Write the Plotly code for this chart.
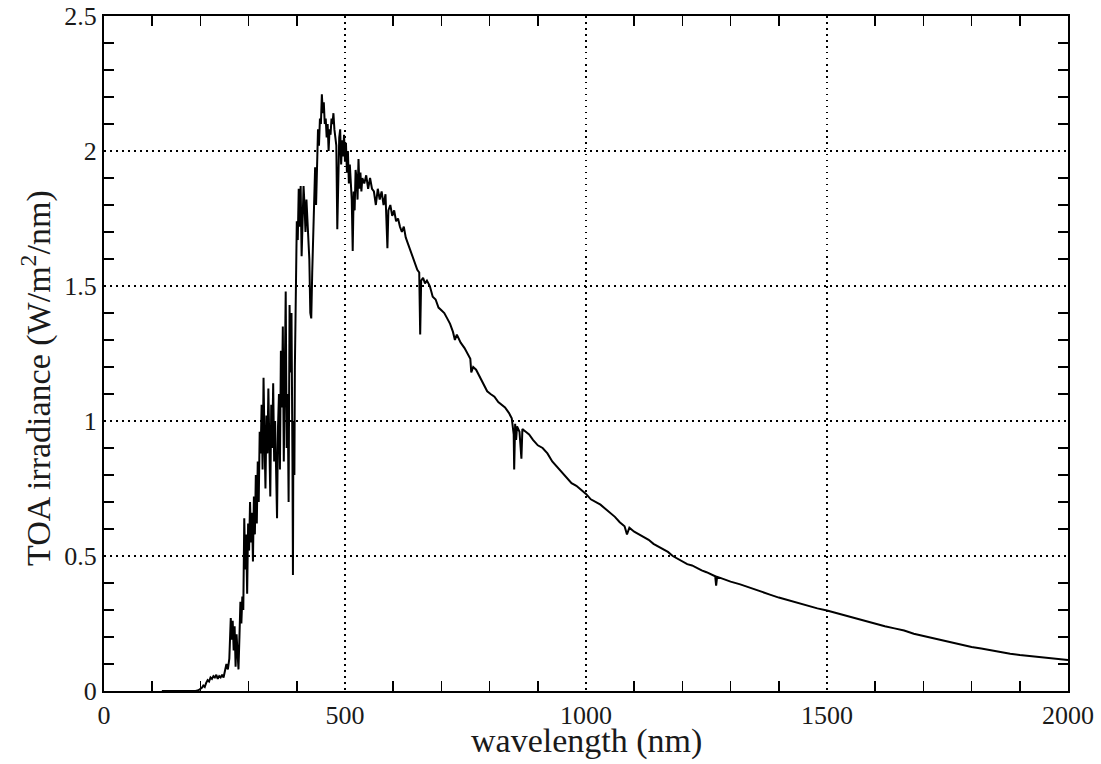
import plotly.graph_objects as go

# wavelength (nm) and TOA irradiance (W/m^2/nm)
wavelength = [
    120, 190, 196, 200, 203, 206, 209, 212, 215, 218, 221, 224, 227, 230, 233, 236, 239, 242, 245, 248,
    251, 254, 257, 260, 263, 265, 267, 269, 271, 273, 275, 277, 279, 281, 283, 285, 287, 289, 291, 293,
    295, 297, 299, 301, 303, 305, 307, 309, 311, 313, 315, 317, 319, 321, 323, 325, 327, 329, 331, 333,
    335, 337, 339, 341, 343, 345, 347, 349, 351, 353, 355, 357, 359, 361, 363, 365, 367, 369, 371, 373,
    375, 377, 379, 381, 383, 385, 387, 389, 391, 392, 393, 395, 396, 398, 400, 402, 404, 406, 408, 410,
    412, 414, 416, 418, 420, 422, 424, 426, 428, 430, 432, 434, 436, 438, 440, 442, 444, 446, 448, 450,
    452, 454, 456, 458, 460, 462, 464, 466, 468, 470, 472, 474, 476, 478, 480, 482, 484, 486, 488, 490,
    492, 494, 496, 498, 500, 502, 504, 506, 508, 510, 512, 514, 516, 518, 520, 522, 524, 526, 528, 530,
    532, 534, 536, 540, 544, 548, 552, 556, 560, 564, 568, 572, 576, 580, 584, 588, 590, 594, 598, 602,
    606, 610, 614, 618, 622, 626, 630, 634, 638, 642, 646, 650, 654, 656, 658, 662, 666, 670, 676, 682,
    688, 694, 700, 706, 712, 718, 724, 728, 732, 740, 748, 756, 760, 762, 766, 772, 780, 788, 795, 802,
    810, 818, 825, 832, 840, 846, 850, 851, 853, 855, 857, 862, 866, 868, 875, 882, 890, 900, 910, 920,
    930, 940, 950, 960, 970, 980, 990, 1000, 1010, 1020, 1030, 1040, 1050, 1060, 1070, 1080, 1085, 1090, 1100, 1110,
    1120, 1130, 1140, 1150, 1160, 1170, 1180, 1190, 1200, 1210, 1220, 1230, 1240, 1250, 1260, 1268, 1270, 1272, 1280, 1290,
    1300, 1320, 1340, 1360, 1380, 1400, 1420, 1440, 1460, 1480, 1500, 1520, 1540, 1560, 1580, 1600, 1620, 1640, 1660, 1680,
    1700, 1720, 1740, 1760, 1780, 1800, 1820, 1840, 1860, 1880, 1900, 1920, 1940, 1960, 1980, 2000,
]
irradiance = [
    0.0, 0.0, 0.003, 0.008, 0.012, 0.02, 0.015, 0.03, 0.04, 0.035, 0.05, 0.045, 0.055, 0.05, 0.06, 0.045, 0.055, 0.05, 0.06, 0.05,
    0.07, 0.10, 0.08, 0.12, 0.27, 0.19, 0.26, 0.15, 0.24, 0.09, 0.21, 0.13, 0.08, 0.20, 0.33, 0.25, 0.35, 0.30, 0.64, 0.45,
    0.58, 0.36, 0.62, 0.52, 0.70, 0.55, 0.66, 0.48, 0.72, 0.58, 0.80, 0.62, 0.85, 0.70, 0.96, 0.88, 1.06, 0.82, 1.16, 0.93,
    0.75, 1.02, 0.88, 1.12, 0.92, 0.72, 1.06, 0.90, 1.14, 0.85, 1.00, 0.72, 0.64, 0.98, 1.10, 0.82, 1.26, 1.05, 1.35, 0.85,
    1.15, 1.48, 0.90, 1.10, 0.70, 1.43, 1.18, 1.40, 0.85, 0.43, 1.00, 0.80, 1.20, 1.60, 1.74, 1.67, 1.86, 1.72, 1.87, 1.61,
    1.78, 1.87, 1.80, 1.70, 1.82, 1.75, 1.65, 1.60, 1.40, 1.38, 1.55, 1.72, 1.85, 1.94, 1.80, 2.00, 2.08, 2.02, 2.12, 2.10,
    2.21, 2.14, 2.18, 2.10, 2.12, 2.05, 2.10, 2.00, 2.08, 2.06, 2.12, 2.10, 2.14, 2.08, 2.05, 2.02, 1.71, 1.95, 2.05, 2.08,
    1.95, 2.04, 1.98, 2.06, 1.96, 2.03, 1.92, 2.00, 1.88, 1.95, 1.90, 1.82, 1.63, 1.85, 1.78, 1.93, 1.90, 1.82, 1.97, 1.86,
    1.92, 1.85, 1.90, 1.88, 1.91, 1.86, 1.90, 1.86, 1.85, 1.80, 1.86, 1.82, 1.85, 1.80, 1.84, 1.64, 1.78, 1.80, 1.76, 1.78,
    1.74, 1.75, 1.72, 1.70, 1.72, 1.68, 1.66, 1.64, 1.62, 1.60, 1.58, 1.56, 1.55, 1.32, 1.52, 1.53, 1.51, 1.52, 1.50, 1.46,
    1.45, 1.42, 1.41, 1.40, 1.38, 1.36, 1.33, 1.30, 1.32, 1.29, 1.27, 1.24, 1.23, 1.18, 1.20, 1.19, 1.16, 1.13, 1.11, 1.10,
    1.09, 1.07, 1.06, 1.05, 1.03, 1.01, 0.95, 0.82, 0.99, 0.93, 0.98, 0.96, 0.86, 0.97, 0.96, 0.95, 0.93, 0.91, 0.90, 0.88,
    0.85, 0.83, 0.81, 0.79, 0.77, 0.76, 0.745, 0.73, 0.71, 0.70, 0.69, 0.675, 0.66, 0.645, 0.625, 0.61, 0.58, 0.605, 0.59, 0.58,
    0.57, 0.56, 0.545, 0.535, 0.525, 0.515, 0.50, 0.49, 0.48, 0.47, 0.465, 0.455, 0.447, 0.44, 0.432, 0.425, 0.39, 0.423, 0.418, 0.41,
    0.405, 0.395, 0.382, 0.37, 0.358, 0.346, 0.336, 0.325, 0.316, 0.306, 0.298, 0.288, 0.278, 0.268, 0.258, 0.248, 0.24, 0.232, 0.224, 0.212,
    0.204, 0.195, 0.186, 0.178, 0.17, 0.163, 0.157, 0.15, 0.143, 0.138, 0.133, 0.129, 0.125, 0.121, 0.118, 0.115,
]

x_title = "wavelength (nm)"
y_title = "TOA irradiance (W/m<sup>2</sup>/nm)"

FONT = "Liberation Serif, Times New Roman, serif"
TEXT = "#1a1a1a"

fig = go.Figure()
fig.add_trace(go.Scatter(
    x=wavelength, y=irradiance, mode="lines",
    line=dict(color="black", width=2),
    showlegend=False, hoverinfo="skip",
))

axis_common = dict(
    showline=True, linecolor="black", linewidth=2, mirror="ticks",
    ticks="", showgrid=True, gridcolor="black", gridwidth=1.2, griddash="1.5px,4.5px",
    zeroline=False, ticklabeloverflow="allow",
    tickfont=dict(family=FONT, size=26, color=TEXT),
)

fig.update_xaxes(
    range=[0, 2000], tickmode="linear", tick0=0, dtick=500,
    minor=dict(dtick=100, ticks="inside", ticklen=10, tickwidth=1.5, tickcolor="black", showgrid=False),
    **axis_common,
)
fig.update_yaxes(
    range=[0, 2.5], tickmode="linear", tick0=0, dtick=0.5,
    minor=dict(dtick=0.1, ticks="inside", ticklen=10, tickwidth=1.5, tickcolor="black", showgrid=False),
    **axis_common,
)

# axis titles placed as annotations for exact positioning
fig.add_annotation(
    text=x_title, xref="paper", yref="paper", x=0.5, y=-(741 - 691) / 675,
    xanchor="center", yanchor="middle", showarrow=False,
    font=dict(family=FONT, size=34, color=TEXT),
)
fig.add_annotation(
    text=y_title, xref="paper", yref="paper", x=(36 - 104) / 964, y=(691 - 378) / 675,
    xanchor="center", yanchor="middle", showarrow=False, textangle=-90,
    font=dict(family=FONT, size=34, color=TEXT),
)

# plot area at 104..1068 x 16..691 of the 1101x764 page
fig.update_layout(
    width=1101, height=764,
    margin=dict(l=104, r=33, t=16, b=73, autoexpand=False),
    paper_bgcolor="white", plot_bgcolor="white",
    font=dict(family=FONT, color=TEXT),
)

fig.write_html(
    "out.html",
    config={"displayModeBar": False, "staticPlot": True},
    post_script="document.body.style.margin='0';document.body.style.overflow='hidden';",
)
